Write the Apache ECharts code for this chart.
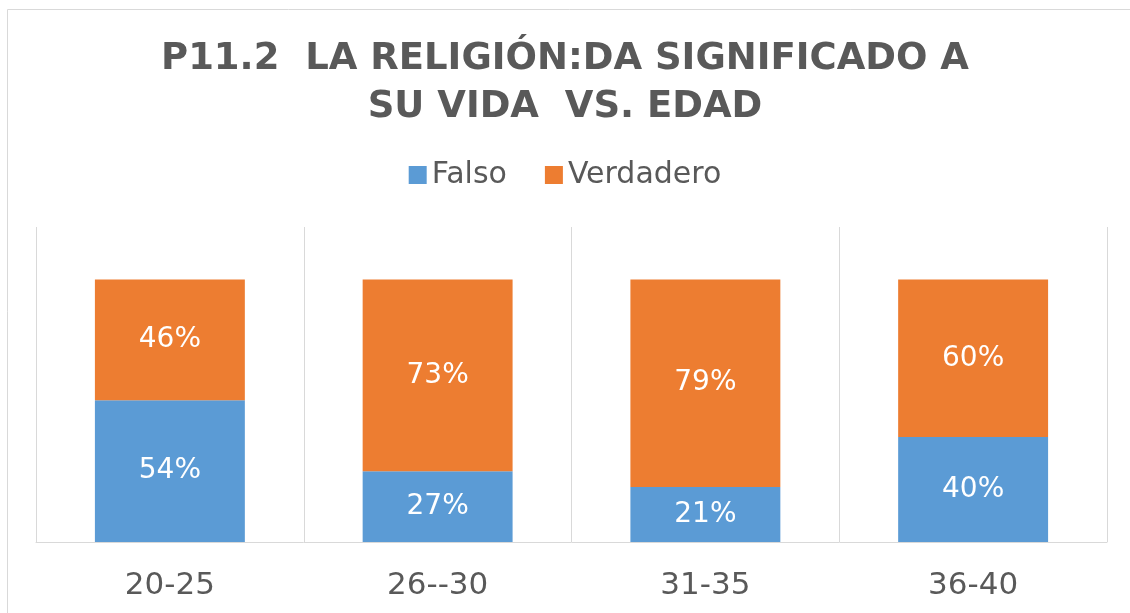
<!DOCTYPE html>
<html><head><meta charset="utf-8">
<script src="https://cdn.jsdelivr.net/npm/echarts@6/dist/echarts.min.js"></script>
<style>html,body{margin:0;padding:0;background:#fff}#c{width:1130px;height:613px}</style>
</head><body><div id="c"></div>
<script>
const categories = ['20-25', '26--30', '31-35', '36-40'];
const falso = [54, 27, 21, 40];
const verdadero = [46, 73, 79, 60];
const seriesNames = ['Falso', 'Verdadero'];
const titleText = 'P11.2  LA RELIGIÓN:DA SIGNIFICADO A\nSU VIDA  VS. EDAD';

const chart = echarts.init(document.getElementById('c'));
const FONT = 'DejaVu Sans';
const labelStyle = {show: true, position: 'inside', color: '#fff', fontSize: 28, fontFamily: FONT, formatter: p => p.value + '%'};
chart.setOption({
  animation: false,
  graphic: [{type: 'rect', shape: {x: 7.5, y: 9.5, width: 1140, height: 620}, style: {fill: 'none', stroke: '#d9d9d9', lineWidth: 1}, silent: true}],
  title: {text: titleText, left: 'center', top: 30, textStyle: {fontFamily: FONT, fontWeight: 'bold', fontSize: 37, color: '#595959', lineHeight: 48}},
  legend: {data: seriesNames, top: 155, left: 'center', itemWidth: 18, itemHeight: 18, itemGap: 38, icon: 'rect', textStyle: {fontFamily: FONT, fontSize: 30, color: '#595959'}},
  grid: {left: 36, right: 23, top: 227, bottom: 71, containLabel: false},
  xAxis: {type: 'category', data: categories, boundaryGap: true,
    axisLine: {lineStyle: {color: '#d9d9d9', width: 1}}, axisTick: {show: false},
    splitLine: {show: true, lineStyle: {color: '#d9d9d9', width: 1}},
    axisLabel: {fontFamily: FONT, fontSize: 31, color: '#595959', margin: 28}},
  yAxis: {type: 'value', min: 0, max: 120, interval: 20, show: false, splitLine: {show: false}},
  series: [
    {name: seriesNames[0], type: 'bar', stack: 's', data: falso, barWidth: '56%', itemStyle: {color: '#5b9bd5'}, label: labelStyle},
    {name: seriesNames[1], type: 'bar', stack: 's', data: verdadero, barWidth: '56%', itemStyle: {color: '#ed7d31'}, label: labelStyle}
  ]
});
</script></body></html>
